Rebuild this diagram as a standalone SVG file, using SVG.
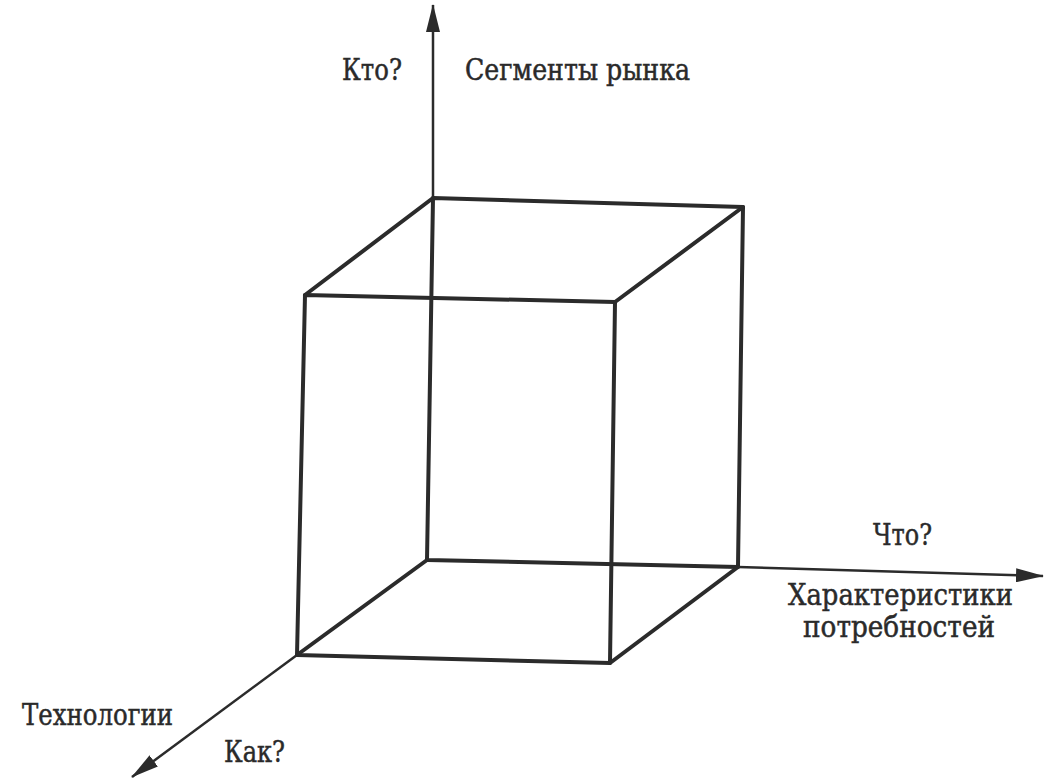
<svg xmlns="http://www.w3.org/2000/svg" width="1050" height="780" viewBox="0 0 1050 780">
<style>
.edge{stroke:#2b2b2b;stroke-width:4;fill:none;stroke-linecap:round;stroke-linejoin:round}
.axis{stroke:#2b2b2b;stroke-width:2.5;fill:none}
.lbl{font-family:"DejaVu Serif","Liberation Serif",serif;font-size:29px;fill:#2a2a2a;stroke:#2a2a2a;stroke-width:0.5}
</style>
<defs>
<marker id="arr" viewBox="0 0 28 14" refX="27" refY="7" markerWidth="28" markerHeight="14" markerUnits="userSpaceOnUse" orient="auto">
<path d="M0,0 L28,7 L0,14 z" fill="#2b2b2b"/>
</marker>
</defs>
<rect width="1050" height="780" fill="#ffffff"/>
<g id="connectors">
<line class="axis" x1="433" y1="198" x2="433" y2="5" marker-end="url(#arr)"/>
<line class="axis" x1="738" y1="567" x2="1043" y2="576" marker-end="url(#arr)"/>
<line class="axis" x1="297" y1="655" x2="132" y2="777" marker-end="url(#arr)"/>
</g>
<g id="cube">
<polygon class="edge" points="433,198 743,207 738,567 427,560"/>
<polygon class="edge" points="305,295 615,302 610,663 297,655"/>
<line class="edge" x1="305" y1="295" x2="433" y2="198"/>
<line class="edge" x1="615" y1="302" x2="743" y2="207"/>
<line class="edge" x1="610" y1="663" x2="738" y2="567"/>
<line class="edge" x1="297" y1="655" x2="427" y2="560"/>
</g>
<g id="label-kto"><text class="lbl" x="342" y="80" textLength="60" lengthAdjust="spacingAndGlyphs">Кто?</text></g>
<g id="label-segments"><text class="lbl" x="465" y="80" textLength="225" lengthAdjust="spacingAndGlyphs">Сегменты рынка</text></g>
<g id="label-chto"><text class="lbl" x="873" y="545" textLength="59" lengthAdjust="spacingAndGlyphs">Что?</text></g>
<g id="label-needs">
<text class="lbl" x="788" y="605" textLength="225" lengthAdjust="spacingAndGlyphs">Характеристики</text>
<text class="lbl" x="803" y="637" textLength="192" lengthAdjust="spacingAndGlyphs">потребностей</text>
</g>
<g id="label-tech"><text class="lbl" x="22" y="725" textLength="151" lengthAdjust="spacingAndGlyphs">Технологии</text></g>
<g id="label-kak"><text class="lbl" x="224" y="762" textLength="61" lengthAdjust="spacingAndGlyphs">Как?</text></g>
</svg>
